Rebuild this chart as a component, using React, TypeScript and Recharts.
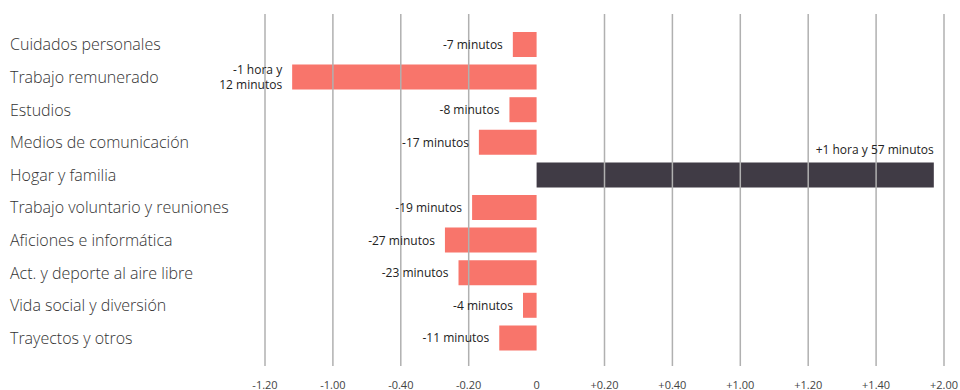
import React from 'react'
import {
	BarChart,
	Bar,
	Cell,
	XAxis,
	YAxis,
	ReferenceLine,
	LabelList,
} from 'recharts'

// Change in daily time use, in minutes
const activities = [
	'Cuidados personales',
	'Trabajo remunerado',
	'Estudios',
	'Medios de comunicación',
	'Hogar y familia',
	'Trabajo voluntario y reuniones',
	'Aficiones e informática',
	'Act. y deporte al aire libre',
	'Vida social y diversión',
	'Trayectos y otros',
]

const minutes = [-7, -72, -8, -17, 117, -19, -27, -23, -4, -11]

const valueLabels = [
	'-7 minutos',
	'-1 hora y\n12 minutos',
	'-8 minutos',
	'-17 minutos',
	'+1 hora y 57 minutos',
	'-19 minutos',
	'-27 minutos',
	'-23 minutos',
	'-4 minutos',
	'-11 minutos',
]

const tickValues = [-80, -60, -40, -20, 0, 20, 40, 60, 80, 100, 120]
const tickLabels = [
	'-1.20',
	'-1.00',
	'-0.40',
	'-0.20',
	'0',
	'+0.20',
	'+0.40',
	'+1.00',
	'+1.20',
	'+1.40',
	'+2.00',
]

const data = activities.map((name, i) => ({
	name,
	value: minutes[i],
	label: valueLabels[i],
}))

const FONT = "'Open Sans', sans-serif"
const NEG = '#f8756b'
const POS = '#403b45'

const CategoryTick = (props: any) => {
	const { y, payload } = props
	return (
		<text
			x={10}
			y={y}
			dominantBaseline='central'
			fontFamily={FONT}
			fontSize={16}
			fontWeight={300}
			fill='#333'
		>
			{payload.value}
		</text>
	)
}

const ValueLabel = (props: any) => {
	const { x, y, width, height, index } = props
	const v = minutes[index]
	const lines = valueLabels[index].split('\n')
	const left = Math.min(x, x + width)
	const right = Math.max(x, x + width)
	const cy = y + height / 2
	if (v >= 0) {
		return (
			<text
				x={right}
				y={y - 13}
				textAnchor='end'
				dominantBaseline='central'
				fontFamily={FONT}
				fontSize={12}
				fill='#222'
			>
				{lines[0]}
			</text>
		)
	}
	const lineH = 15
	const start = cy - ((lines.length - 1) * lineH) / 2
	return (
		<text
			textAnchor='end'
			fontFamily={FONT}
			fontSize={12}
			fill='#222'
		>
			{lines.map((l: string, i: number) => (
				<tspan
					key={i}
					x={left - 10}
					y={start + i * lineH}
					dominantBaseline='central'
				>
					{l}
				</tspan>
			))}
		</text>
	)
}

export default function App() {
	return (
		<div style={{ position: 'absolute', left: 0, top: 0 }}>
			<BarChart
				width={960}
				height={390}
				data={data}
				layout='vertical'
				margin={{ top: 14, right: 16, bottom: 0, left: 0 }}
			>
				<XAxis
					type='number'
					domain={[-80, 120]}
					ticks={tickValues}
					tickFormatter={(v: number) => tickLabels[tickValues.indexOf(v)]}
					axisLine={false}
					tickLine={false}
					tickMargin={9}
					height={24}
					tick={{ fontFamily: FONT, fontSize: 11, fill: '#444' }}
					interval={0}
				/>
				<YAxis
					type='category'
					dataKey='name'
					width={265}
					axisLine={false}
					tickLine={false}
					padding={{ top: 14, bottom: 12 }}
					tick={<CategoryTick />}
					interval={0}
				/>
				<Bar dataKey='value' barSize={25} isAnimationActive={false}>
					{data.map((d, i) => (
						<Cell key={i} fill={d.value >= 0 ? POS : NEG} />
					))}
					<LabelList dataKey='label' content={<ValueLabel />} />
				</Bar>
				{tickValues
					.filter((t) => t !== 0)
					.map((t) => (
						<ReferenceLine
							key={t}
							x={t}
							stroke='#b0b0b0'
							strokeWidth={1.5}
						/>
					))}
			</BarChart>
		</div>
	)
}
